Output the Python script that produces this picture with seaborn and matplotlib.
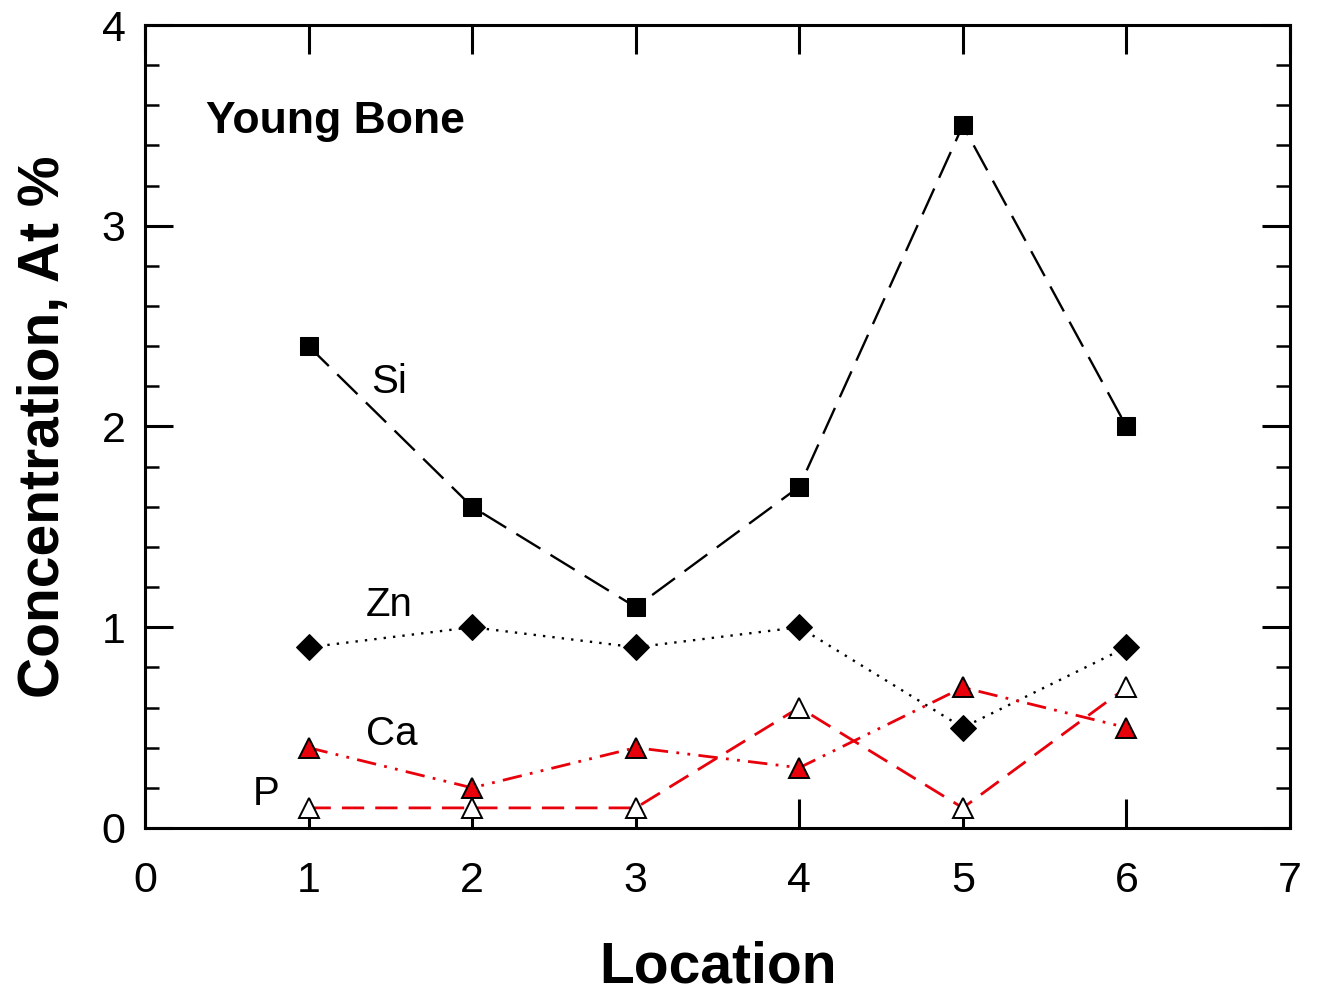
import matplotlib
matplotlib.use("Agg")
import matplotlib.pyplot as plt
import seaborn as sns
import pandas as pd
from matplotlib.ticker import MultipleLocator

location = [1, 2, 3, 4, 5, 6]
si = [2.4, 1.6, 1.1, 1.7, 3.5, 2.0]
zn = [0.9, 1.0, 0.9, 1.0, 0.5, 0.9]
ca = [0.4, 0.2, 0.4, 0.3, 0.7, 0.5]
p = [0.1, 0.1, 0.1, 0.6, 0.1, 0.7]

sns.set_style("ticks")
plt.rcParams['font.family'] = ['Liberation Sans', 'DejaVu Sans']
plt.rcParams['text.color'] = 'black'
plt.rcParams['axes.labelcolor'] = 'black'
plt.rcParams['xtick.color'] = 'black'
plt.rcParams['ytick.color'] = 'black'

fig = plt.figure(figsize=(13.21, 9.93), dpi=100)
ax = fig.add_axes([0.1098, 0.1662, 0.9765 - 0.1098, 0.9748 - 0.1662])

df = pd.DataFrame({"Location": location, "Si": si, "Zn": zn, "Ca": ca, "P": p})

sns.lineplot(data=df, x="Location", y="Si", ax=ax, color="black", lw=1.7,
             linestyle=(0, (12, 5)), marker="s", markersize=13,
             markerfacecolor="black", markeredgecolor="black", zorder=3)
sns.lineplot(data=df, x="Location", y="Zn", ax=ax, color="black", lw=1.7,
             linestyle=(0, (1, 3)), marker="D", markersize=13,
             markerfacecolor="black", markeredgecolor="black", zorder=3)
sns.lineplot(data=df, x="Location", y="Ca", ax=ax, color="#e8000b", lw=2.0,
             linestyle=(0, (7, 3, 1, 3, 1, 3)), marker="^", markersize=15,
             markerfacecolor="#e8000b", markeredgecolor="black", markeredgewidth=1.4, zorder=4)
sns.lineplot(data=df, x="Location", y="P", ax=ax, color="#e8000b", lw=2.0,
             linestyle=(0, (8, 4)), marker="^", markersize=15,
             markerfacecolor="white", markeredgecolor="black", markeredgewidth=1.4, zorder=4)

ax.set_xlim(0, 7)
ax.set_ylim(0, 4)
ax.xaxis.set_major_locator(MultipleLocator(1))
ax.yaxis.set_major_locator(MultipleLocator(1))
ax.yaxis.set_minor_locator(MultipleLocator(0.2))
ax.tick_params(axis='x', which='major', direction='in', length=21, width=2.2,
               top=True, bottom=True, labelsize=31, pad=24)
ax.tick_params(axis='y', which='major', direction='in', length=20, width=2.2,
               left=True, right=True, labelsize=31, pad=14)
ax.tick_params(axis='y', which='minor', direction='in', length=10, width=1.8,
               left=True, right=True)
for s in ax.spines.values():
    s.set_linewidth(2.2)
    s.set_color("black")

ax.set_xlabel("Location", fontsize=41, fontweight="bold", labelpad=28)
ax.set_ylabel("Concentration, At %", fontsize=41, fontweight="bold", labelpad=22)

ax.text(0.37, 3.52, "Young Bone", fontsize=32, fontweight="bold", va="center", ha="left")
ax.text(1.38, 2.22, "Si", fontsize=29, va="center", ha="left")
ax.text(1.35, 1.11, "Zn", fontsize=29, va="center", ha="left")
ax.text(1.35, 0.47, "Ca", fontsize=29, va="center", ha="left")
ax.text(0.66, 0.17, "P", fontsize=29, va="center", ha="left")

fig.savefig("out.png", dpi=100)
